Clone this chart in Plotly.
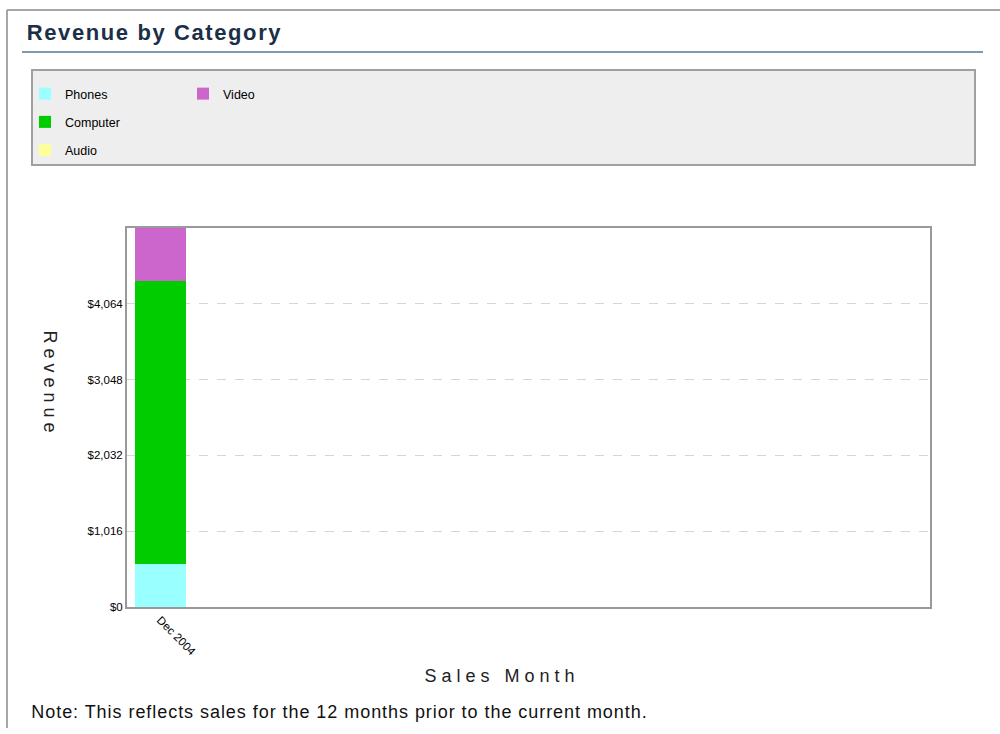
import plotly.graph_objects as go

# ---- data ----
months = ["Dec 2004"]
categories = ["Phones", "Computer", "Audio", "Video"]
phones = [580]
computer = [3790]
audio = [0]
video = [710]
colors = {"Phones": "#99ffff", "Computer": "#00cc00", "Audio": "#ffff99", "Video": "#cc66cc"}
ytick_vals = [0, 1016, 2032, 3048, 4064]
ytick_text = ["$0", "$1,016", "$2,032", "$3,048", "$4,064"]
y_max = 5080

series = {"Phones": phones, "Computer": computer, "Audio": audio, "Video": video}

FONT = "Liberation Sans, Arial, sans-serif"
W, H = 1000, 734
H_EFF = 728  # rendered height of the figure in the viewer


def px(x):
    return x / W


def py(y):
    return 1 - y / H_EFF


fig = go.Figure()
for name in categories:
    fig.add_trace(go.Bar(
        x=[0], y=series[name], name=name, width=[1],
        marker=dict(color=colors[name], line=dict(width=0)),
        legend="legend2" if name == "Video" else "legend",
        legendgroup=name,
        hovertext=months, hoverinfo="y+name",
    ))

shapes = [
    # page border (top and left)
    dict(type="line", xref="paper", yref="paper", x0=px(7), x1=1, y0=py(10), y1=py(10),
         line=dict(color="#8a8a8a", width=1.5), layer="below"),
    dict(type="line", xref="paper", yref="paper", x0=px(7), x1=px(7), y0=py(10), y1=0,
         line=dict(color="#8a8a8a", width=1.5), layer="below"),
    # title underline
    dict(type="line", xref="paper", yref="paper", x0=px(22), x1=px(983), y0=py(52), y1=py(52),
         line=dict(color="#7d9bb5", width=2), layer="below"),
    # legend box
    dict(type="rect", xref="paper", yref="paper", x0=px(32), x1=px(975), y0=py(70), y1=py(165),
         fillcolor="#eeeeee", line=dict(color="#a0a0a0", width=2), layer="below"),
]

annotations = [
    dict(text="<b>Revenue by Category</b>", xref="paper", yref="paper", x=px(40), y=py(33),
         xanchor="left", yanchor="middle", showarrow=False,
         font=dict(family=FONT, size=22, color="#1b3047")),
    dict(text="Revenue", xref="paper", yref="paper", x=px(50), y=py(384),
         xanchor="center", yanchor="middle", textangle=90, showarrow=False,
         font=dict(family=FONT, size=18, color="#222222")),
    dict(text="Sales Month", xref="paper", yref="paper", x=px(502), y=py(676),
         xanchor="center", yanchor="middle", showarrow=False,
         font=dict(family=FONT, size=18, color="#222222")),
    dict(text="Note: This reflects sales for the 12 months prior to the current month.",
         xref="paper", yref="paper", x=px(63), y=py(712),
         xanchor="left", yanchor="middle", showarrow=False,
         font=dict(family=FONT, size=18, color="#111111")),
]

fig.update_layout(
    width=W, height=H,
    margin=dict(l=0, r=0, t=0, b=0),
    paper_bgcolor="white", plot_bgcolor="white",
    barmode="stack",
    font=dict(family=FONT, size=10, color="#000000"),
    xaxis=dict(
        domain=[px(127), px(930)], range=[-0.65, 15.1],
        tickmode="array", tickvals=[0], ticktext=months, tickangle=45,
        showgrid=False, zeroline=False,
        showline=True, linecolor="#999999", linewidth=2, mirror=True,
        tickfont=dict(family=FONT, size=11.5, color="#000000"),
        fixedrange=True,
    ),
    yaxis=dict(
        domain=[py(607), py(228)], range=[0, y_max],
        tickmode="array", tickvals=ytick_vals, ticktext=ytick_text,
        showgrid=True, gridcolor="#d6d6d6", griddash="dash", gridwidth=1,
        zeroline=False,
        showline=True, linecolor="#999999", linewidth=2, mirror=True,
        tickfont=dict(family=FONT, size=11.5, color="#000000"),
        fixedrange=True,
    ),
    legend=dict(
        x=px(25), y=py(79), xanchor="left", yanchor="top",
        bgcolor="rgba(0,0,0,0)", borderwidth=0,
        font=dict(family=FONT, size=12.5, color="#000000"),
        tracegroupgap=9, traceorder="grouped",
    ),
    legend2=dict(
        x=px(183), y=py(79), xanchor="left", yanchor="top",
        bgcolor="rgba(0,0,0,0)", borderwidth=0,
        font=dict(family=FONT, size=12.5, color="#000000"),
    ),
    shapes=shapes,
    annotations=annotations,
    showlegend=True,
)

post = """
document.body.style.margin='0';
var gd = document.getElementById('{plot_id}');
gd.querySelectorAll('text.annotation-text').forEach(function(t){
  var s = t.textContent;
  if (s === 'Sales Month' || s === 'Revenue') {
    t.style.letterSpacing = '5px';
  } else if (s.indexOf('Note:') === 0) {
    t.style.letterSpacing = '0.95px';
  } else if (s === 'Revenue by Category') {
    t.style.letterSpacing = '1.6px';
  }
});
"""

fig.write_html("out.html", post_script=post, config={"displayModeBar": False})
